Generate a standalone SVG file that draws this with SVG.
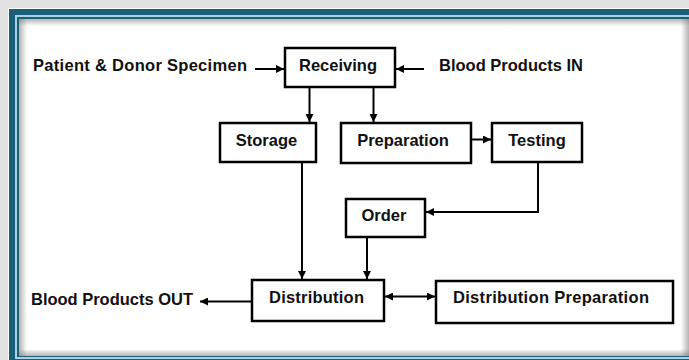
<svg xmlns="http://www.w3.org/2000/svg" width="689" height="360" viewBox="0 0 689 360">
<style>
.box{fill:#fff;stroke:#000;stroke-width:2.5}
.t{font-family:"Liberation Sans",Arial,sans-serif;font-weight:bold;font-size:16.5px;fill:#111}
.m{text-anchor:middle}
.c{fill:none;stroke:#000;stroke-width:2}
</style>
<defs>
<marker id="ah" viewBox="0 0 10 10" refX="10" refY="5" markerWidth="9" markerHeight="8" markerUnits="userSpaceOnUse" orient="auto-start-reverse">
<path d="M0,0 L10,5 L0,10 z" fill="#000"/>
</marker>
<linearGradient id="gl" x1="0" y1="0" x2="1" y2="0"><stop offset="0" stop-color="#777" stop-opacity="0.55"/><stop offset="1" stop-color="#777" stop-opacity="0"/></linearGradient>
<linearGradient id="gr" x1="1" y1="0" x2="0" y2="0"><stop offset="0" stop-color="#777" stop-opacity="0.55"/><stop offset="1" stop-color="#777" stop-opacity="0"/></linearGradient>
<linearGradient id="gt" x1="0" y1="0" x2="0" y2="1"><stop offset="0" stop-color="#777" stop-opacity="0.55"/><stop offset="1" stop-color="#777" stop-opacity="0"/></linearGradient>
<linearGradient id="gb" x1="0" y1="1" x2="0" y2="0"><stop offset="0" stop-color="#777" stop-opacity="0.55"/><stop offset="1" stop-color="#777" stop-opacity="0"/></linearGradient>
</defs>
<g id="frame">
<rect width="689" height="360" fill="#e2e2e2"/>
<rect x="8" y="8" width="690" height="360" fill="#ffffff"/>
<rect x="9" y="9" width="690" height="360" fill="#1d5f78"/>
<rect x="15" y="15" width="690" height="344" fill="#a9d2de"/>
<rect x="17" y="17" width="690" height="340" fill="#1d5f78"/>
<rect x="19" y="19" width="670" height="337" fill="#ffffff"/>
<rect x="19" y="19" width="8" height="337" fill="url(#gl)"/>
<rect x="19" y="19" width="670" height="7" fill="url(#gt)"/>
<rect x="681" y="19" width="8" height="337" fill="url(#gr)"/>
<rect x="19" y="349" width="670" height="7" fill="url(#gb)"/>
</g>
<g id="connectors">
<line class="c" x1="255" y1="69" x2="284" y2="69" marker-end="url(#ah)"/>
<line class="c" x1="424" y1="69" x2="396" y2="69" marker-end="url(#ah)"/>
<line class="c" x1="309.5" y1="87" x2="309.5" y2="122" marker-end="url(#ah)"/>
<line class="c" x1="373.5" y1="87" x2="373.5" y2="122" marker-end="url(#ah)"/>
<line class="c" x1="471" y1="139.5" x2="491" y2="139.5" marker-end="url(#ah)"/>
<polyline class="c" points="538,162 538,212 426,212" marker-end="url(#ah)"/>
<line class="c" x1="302" y1="162" x2="302" y2="279" marker-end="url(#ah)"/>
<line class="c" x1="367" y1="237" x2="367" y2="279" marker-end="url(#ah)"/>
<line class="c" x1="385" y1="296.5" x2="435" y2="296.5" marker-start="url(#ah)" marker-end="url(#ah)"/>
<line class="c" x1="252" y1="301.5" x2="200" y2="301.5" marker-end="url(#ah)"/>
</g>
<g id="patient"><text class="t" x="33" y="71" textLength="214" lengthAdjust="spacing">Patient &amp; Donor Specimen</text></g>
<g id="bloodin"><text class="t" x="439" y="71" textLength="144" lengthAdjust="spacing">Blood Products IN</text></g>
<g id="bloodout"><text class="t" x="31" y="305" textLength="162" lengthAdjust="spacing">Blood Products OUT</text></g>
<g id="receiving"><rect class="box" x="285" y="48" width="110" height="39"/><text class="t m" x="338" y="71">Receiving</text></g>
<g id="storage"><rect class="box" x="220" y="123" width="96" height="39"/><text class="t m" x="266.5" y="146">Storage</text></g>
<g id="preparation"><rect class="box" x="341" y="123" width="130" height="40"/><text class="t m" x="403" y="145.5">Preparation</text></g>
<g id="testing"><rect class="box" x="492" y="123" width="90" height="39"/><text class="t m" x="537" y="145.5">Testing</text></g>
<g id="order"><rect class="box" x="346" y="199" width="79" height="38"/><text class="t m" x="384" y="221">Order</text></g>
<g id="distribution"><rect class="box" x="252" y="280" width="132" height="41"/><text class="t m" x="316.5" y="303" textLength="95" lengthAdjust="spacing">Distribution</text></g>
<g id="distprep"><rect class="box" x="436" y="281" width="237" height="42"/><text class="t m" x="551" y="303" textLength="196" lengthAdjust="spacing">Distribution Preparation</text></g>
</svg>
